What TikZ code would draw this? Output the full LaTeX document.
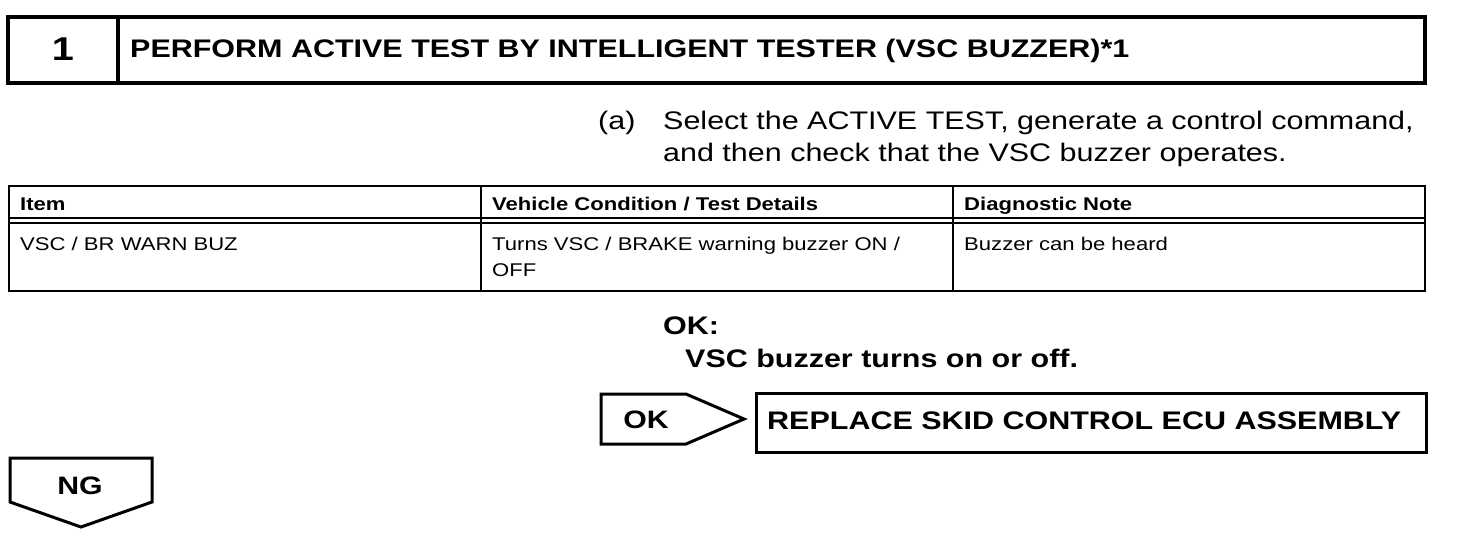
\documentclass[tikz,border=0pt]{standalone}
\usepackage{fontspec}
\setmainfont[FakeStretch=1.2]{Liberation Sans}
\usetikzlibrary{positioning}
\tikzset{
 heavyline/.style={line width=3.5pt},
 gridline/.style={line width=1.5pt},
 titletext/.style={inner sep=0pt, anchor=base west, font=\fontsize{25.4}{30}\selectfont\bfseries},
 steptext/.style={inner sep=0pt, anchor=base west, font=\fontsize{25.4}{32}\selectfont},
 cell/.style={inner sep=0pt, anchor=base west, align=left, font=\fontsize{18.4}{26}\selectfont},
 headcell/.style={cell, font=\fontsize{18.4}{26}\selectfont\bfseries},
 oktext/.style={inner sep=0pt, anchor=base west, font=\fontsize{25.4}{30}\selectfont\bfseries},
 flagtext/.style={inner sep=0pt, anchor=base, font=\fontsize{25.2}{30}\selectfont\bfseries}
}

\begin{document}
\begin{tikzpicture}[x=1pt,y=-1pt]
 \useasboundingbox (0,0) rectangle (1472,550);

 % step header
 \draw[heavyline] (8,17) rectangle (1425,83);
 \draw[heavyline] (118,17) -- (118,83);
 \node[titletext, anchor=base, font=\fontsize{33}{36}\selectfont\bfseries] (num) at (63,60) {1};
 \node[titletext] (title) at (130,57) {PERFORM ACTIVE TEST BY INTELLIGENT TESTER (VSC BUZZER)*1};

 % instruction
 \node[steptext] (mark) at (598,129) {(a)};
 \node[steptext] (line1) at (663,129) {Select the ACTIVE TEST, generate a control command,};
 \node[steptext] (line2) at (663,161) {and then check that the VSC buzzer operates.};

 % table
 \draw[gridline] (9,186) rectangle (1425,291);
 \draw[line width=2.5pt] (9,218) -- (1425,218);
 \draw[gridline] (9,223) -- (1425,223);
 \draw[gridline] (481,186) -- (481,291);
 \draw[gridline] (953,186) -- (953,291);
 \node[headcell] (h1) at (20,210) {Item};
 \node[headcell] (h2) at (492,210) {Vehicle Condition / Test Details};
 \node[headcell] (h3) at (964,210) {Diagnostic Note};
 \node[cell] (c1) at (20,250) {VSC / BR WARN BUZ};
 \node[cell] (c2) at (492,276) {Turns VSC / BRAKE warning buzzer ON /\\OFF};
 \node[cell] (c3) at (964,250) {Buzzer can be heard};

 % result
 \node[oktext] (ok) at (663,334) {OK:};
 \node[oktext] (okline) at (685,367) {VSC buzzer turns on or off.};

 % OK branch
 \draw[line width=3pt] (601,394) -- (686,394) -- (744,419) -- (686,444) -- (601,444) -- cycle;
 \node[flagtext] (okflag) at (646,428) {OK};
 \draw[line width=3pt] (756,393) rectangle (1426,452);
 \node[oktext] (replace) at (767,429) {REPLACE SKID CONTROL ECU ASSEMBLY};

 % NG branch
 \draw[line width=3pt] (10,458) -- (152,458) -- (152,502) -- (81,527) -- (10,502) -- cycle;
 \node[flagtext] (ngflag) at (80,494) {NG};
\end{tikzpicture}
\end{document}
